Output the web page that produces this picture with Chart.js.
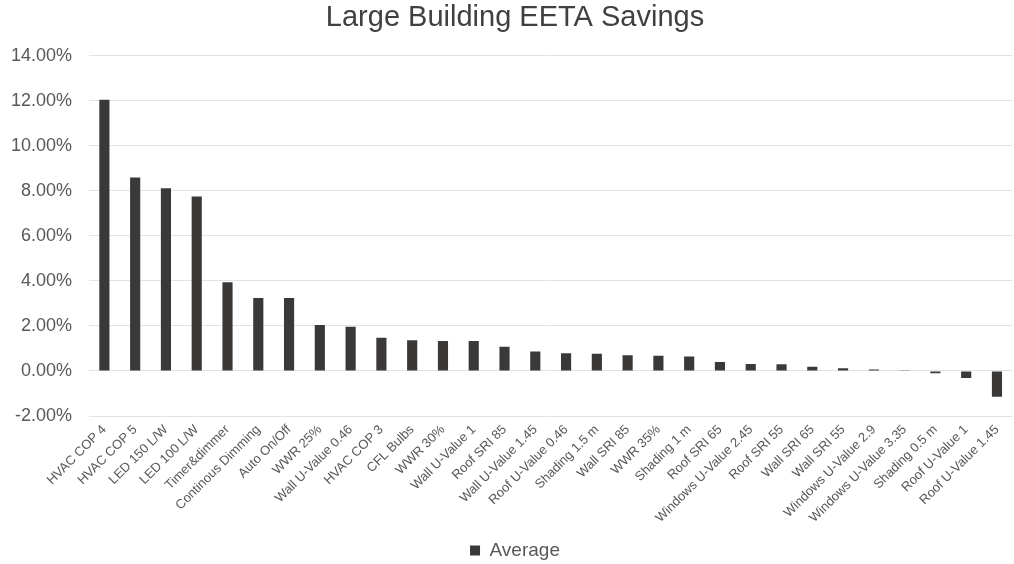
<!DOCTYPE html>
<html>
<head>
<meta charset="utf-8">
<script src="https://cdn.jsdelivr.net/npm/chart.js@4/dist/chart.umd.min.js"></script>
<style>
html,body{margin:0;padding:0;background:#fff;}
#wrap{width:1014px;height:564px;position:relative;}
</style>
</head>
<body>
<div id="wrap"><canvas id="c" width="1014" height="564"></canvas></div>
<script>
const categories = ["HVAC COP 4","HVAC COP 5","LED 150 L/W","LED 100 L/W","Timer&dimmer","Continous Dimming","Auto On/Off","WWR 25%","Wall U-Value 0.46","HVAC COP 3","CFL Bulbs","WWR 30%","Wall U-Value 1","Roof SRI 85","Wall U-Value 1.45","Roof U-Value 0.46","Shading 1.5 m","Wall SRI 85","WWR 35%","Shading 1 m","Roof SRI 65","Windows U-Value 2.45","Roof SRI 55","Wall SRI 65","Wall SRI 55","Windows U-Value 2.9","Windows U-Value 3.35","Shading 0.5 m","Roof U-Value 1","Roof U-Value 1.45"];
const averageSavings = [12.05,8.59,8.12,7.75,3.94,3.24,3.24,2.04,1.96,1.48,1.36,1.33,1.33,1.08,0.87,0.79,0.76,0.70,0.68,0.64,0.40,0.31,0.30,0.19,0.12,0.07,0.03,-0.10,-0.31,-1.15];
const seriesName = "Average";
const yMin = -2, yMax = 14, yStep = 2;

const barColor = "#3b3838";
const textColor = "#595959";
const font = "'Liberation Sans', Arial, sans-serif";
const padBottom = -6;
const boxShift = 8;

const shiftBoxes = {
  id: 'shiftBoxes',
  afterLayout(chart) {
    [chart.titleBlock, chart.legend].forEach(b => {
      if (b) { b.left += boxShift; b.right += boxShift; }
    });
  }
};

new Chart(document.getElementById('c'), {
  type: 'bar',
  data: {
    labels: categories,
    datasets: [{
      label: seriesName,
      data: averageSavings,
      backgroundColor: barColor,
      borderWidth: 0,
      barPercentage: 0.33,
      categoryPercentage: 1.0
    }]
  },
  plugins: [shiftBoxes],
  options: {
    responsive: false,
    animation: false,
    devicePixelRatio: 1,
    layout: { padding: { left: 0, right: 0, top: 0, bottom: padBottom } },
    plugins: {
      title: {
        display: true,
        text: 'Large Building EETA Savings',
        color: '#404040',
        font: { family: font, size: 29, weight: 'normal' },
        padding: { top: 1, bottom: 20 }
      },
      legend: {
        display: true,
        position: 'bottom',
        labels: {
          color: textColor,
          font: { family: font, size: 19 },
          boxWidth: 10,
          boxHeight: 10,
          padding: 2
        }
      },
      tooltip: { enabled: false }
    },
    scales: {
      x: {
        grid: { display: false, drawTicks: false },
        border: { display: false },
        ticks: {
          color: textColor,
          font: { family: font, size: 13 },
          maxRotation: 45,
          minRotation: 45,
          autoSkip: false,
          padding: 6
        },
        afterFit: s => {
          const lg = s.chart.legend;
          s.height = s.chart.height - padBottom - 416 - (lg ? lg.height : 0);
        }
      },
      y: {
        min: yMin,
        max: yMax,
        grid: { color: '#e3e3e3', lineWidth: 1, drawTicks: false },
        border: { display: false },
        ticks: {
          stepSize: yStep,
          color: textColor,
          font: { family: font, size: 18 },
          padding: 17,
          callback: v => v.toFixed(2) + '%'
        },
        afterFit: s => { s.width = 89; }
      }
    }
  }
});
</script>
</body>
</html>
